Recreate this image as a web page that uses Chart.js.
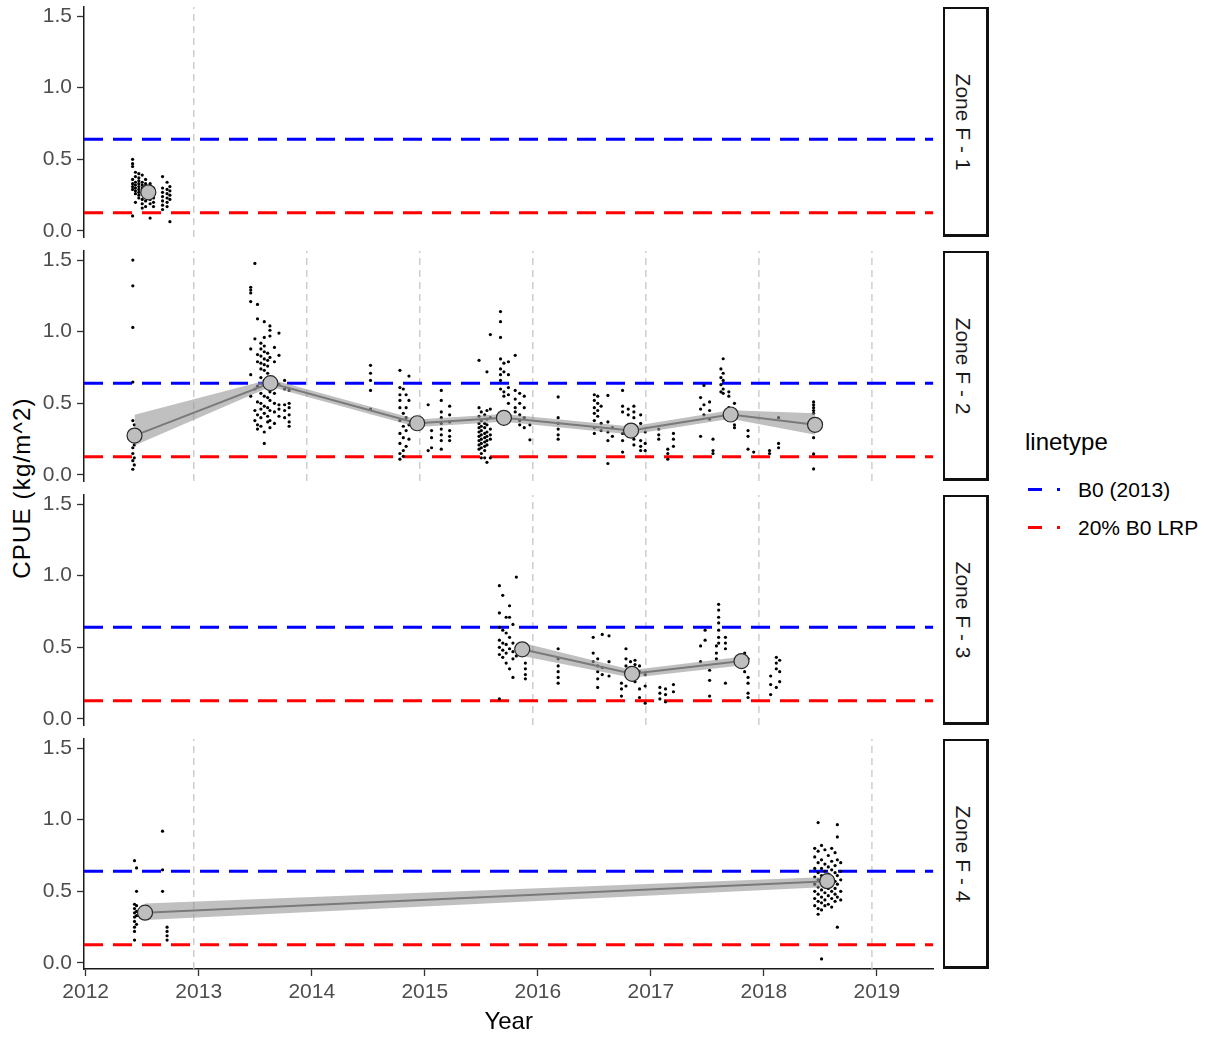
<!DOCTYPE html>
<html>
<head>
<meta charset="utf-8">
<title>CPUE by zone</title>
<script src="https://cdn.jsdelivr.net/npm/chart.js@4.4.1/dist/chart.umd.min.js"></script>
<style>
  html, body { margin: 0; padding: 0; background: #fff; }
  body { width: 1206px; height: 1038px; position: relative; overflow: hidden;
         font-family: "Liberation Sans", Arial, sans-serif; }
  canvas.panel { position: absolute; left: 0; }
  .strip { position: absolute; left: 943px; width: 46px; height: 230px; box-sizing: border-box;
           border: 2px solid #111; border-right-width: 3px; border-bottom-width: 3px; background: #fff; }
  .strip span { position: absolute; left: 50%; top: 50%; white-space: nowrap;
                transform: translate(-50%, -50%) rotate(90deg); margin-left: -3px;
                font-size: 21px; color: #1a1a1a; }
  #ytitle { position: absolute; left: 22px; top: 488px; white-space: nowrap;
            transform: translate(-50%, -50%) rotate(-90deg); font-size: 24px; letter-spacing: 1.2px; color: #000; }
  #legend { position: absolute; left: 1025px; top: 428px; color: #000; }
  #legend .ttl { position: absolute; left: 0; top: 0; font-size: 24px; white-space: nowrap; }
  #legend .item { position: absolute; left: 0; height: 24px; width: 180px; }
  #legend .dash { position: absolute; left: 3px; top: 10px; width: 14px; height: 3px; }
  #legend .dot { position: absolute; left: 32px; top: 10px; width: 3px; height: 3px; }
  #legend .lbl { position: absolute; left: 53px; top: 0; font-size: 21px; line-height: 24px; white-space: nowrap; }
</style>
</head>
<body>
<div id="ytitle">CPUE (kg/m^2)</div>
<div id="legend"></div>
<script>
// ---- data ---------------------------------------------------------------
const yearTicks = [2012, 2013, 2014, 2015, 2016, 2017, 2018, 2019];
const cpueTicks = [0, 0.5, 1.0, 1.5];
const zoneNames = ['Zone F - 1', 'Zone F - 2', 'Zone F - 3', 'Zone F - 4'];
const legendTitle = 'linetype';
const refNames = ['B0 (2013)', '20% B0 LRP'];
const refLevels = [0.64, 0.128];

// season boundaries drawn for each zone
const zone1Breaks = [2012.956];
const zone2Breaks = [2012.956, 2013.956, 2014.956, 2015.956, 2016.956, 2017.956, 2018.956];
const zone3Breaks = [2015.956, 2016.956, 2017.956];
const zone4Breaks = [2012.956, 2018.956];

// yearly mean CPUE and its confidence band
const zone1Time = [2012.554];
const zone1Mean = [0.27];
const zone1Lo = [0.27];
const zone1Hi = [0.27];

const zone2Time = [2012.432, 2013.634, 2014.933, 2015.70, 2016.825, 2017.706, 2018.453];
const zone2Mean = [0.275, 0.641, 0.361, 0.399, 0.310, 0.422, 0.350];
const zone2Lo = [0.205, 0.615, 0.335, 0.372, 0.282, 0.392, 0.280];
const zone2Hi = [0.420, 0.668, 0.388, 0.426, 0.338, 0.452, 0.430];

const zone3Time = [2015.862, 2016.834, 2017.802];
const zone3Mean = [0.486, 0.315, 0.404];
const zone3Lo = [0.440, 0.288, 0.374];
const zone3Hi = [0.532, 0.342, 0.434];

const zone4Time = [2012.525, 2018.561];
const zone4Mean = [0.351, 0.571];
const zone4Lo = [0.300, 0.530];
const zone4Hi = [0.415, 0.600];

// individual CPUE records: [date, [values at that date]]
const zone1Catch = [
  [2012.415, [0.50, 0.47, 0.45, 0.36, 0.33, 0.31, 0.29, 0.105]],
  [2012.44, [0.41, 0.38, 0.34, 0.32, 0.30, 0.28, 0.26, 0.20]],
  [2012.47, [0.40, 0.37, 0.35, 0.33, 0.31, 0.29, 0.27, 0.25, 0.23]],
  [2012.50, [0.39, 0.34, 0.32, 0.30, 0.28, 0.26, 0.22, 0.19, 0.16]],
  [2012.53, [0.36, 0.33, 0.31, 0.29, 0.24, 0.21, 0.17]],
  [2012.57, [0.33, 0.30, 0.26, 0.22, 0.19, 0.09]],
  [2012.60, [0.30, 0.27, 0.23, 0.20, 0.17]],
  [2012.68, [0.38, 0.30, 0.27, 0.24, 0.21, 0.18, 0.15]],
  [2012.72, [0.34, 0.29, 0.26, 0.23, 0.20, 0.17]],
  [2012.745, [0.31, 0.28, 0.25, 0.22, 0.065]]
];

const zone2Catch = [
  [2012.417, [1.50, 1.32, 1.03, 0.648, 0.38, 0.24, 0.19, 0.15, 0.10, 0.04]],
  [2012.43, [0.35, 0.29, 0.21, 0.12, 0.07]],
  [2013.46, [1.31, 1.29, 1.27, 1.21, 0.88, 0.70, 0.55]],
  [2013.497, [1.476, 0.95, 0.60, 0.45, 0.38]],
  [2013.52, [1.19, 1.09, 0.84, 0.79, 0.62, 0.51, 0.42, 0.35, 0.32]],
  [2013.55, [0.92, 0.88, 0.83, 0.78, 0.74, 0.68, 0.57, 0.50, 0.46, 0.40, 0.34]],
  [2013.58, [1.07, 0.96, 0.90, 0.86, 0.81, 0.77, 0.73, 0.66, 0.55, 0.48, 0.43, 0.30, 0.22]],
  [2013.61, [0.85, 0.80, 0.76, 0.71, 0.61, 0.54, 0.47, 0.41, 0.37]],
  [2013.63, [1.04, 1.01, 0.97, 0.82, 0.67, 0.58, 0.52, 0.45, 0.38, 0.33]],
  [2013.67, [0.89, 0.79, 0.64, 0.57, 0.50, 0.44, 0.36]],
  [2013.71, [0.99, 0.835, 0.63, 0.49, 0.46, 0.41]],
  [2013.76, [0.66, 0.60, 0.49, 0.45, 0.40]],
  [2013.80, [0.59, 0.50, 0.47, 0.42, 0.37, 0.34]],
  [2014.52, [0.765, 0.71, 0.66, 0.59, 0.46]],
  [2014.78, [0.73, 0.61, 0.56, 0.52, 0.47, 0.38, 0.29, 0.22, 0.15, 0.11]],
  [2014.81, [0.60, 0.43, 0.34, 0.26, 0.17, 0.13]],
  [2014.835, [0.56, 0.47, 0.40, 0.31, 0.20]],
  [2014.86, [0.69, 0.52, 0.35, 0.25]],
  [2015.03, [0.49, 0.17]],
  [2015.06, [0.31, 0.26, 0.19]],
  [2015.146, [0.59, 0.52, 0.44, 0.40, 0.36, 0.32, 0.28, 0.24, 0.18]],
  [2015.22, [0.48, 0.42, 0.37, 0.31, 0.27, 0.24]],
  [2015.48, [0.80, 0.47, 0.41, 0.36, 0.33, 0.30, 0.27, 0.24, 0.21, 0.18]],
  [2015.50, [0.44, 0.38, 0.34, 0.31, 0.28, 0.25, 0.22, 0.19, 0.15, 0.12]],
  [2015.53, [0.42, 0.36, 0.33, 0.29, 0.26, 0.23, 0.20, 0.17, 0.12]],
  [2015.55, [0.72, 0.45, 0.39, 0.35, 0.30, 0.27, 0.24, 0.21, 0.088]],
  [2015.58, [0.98, 0.46, 0.40, 0.32, 0.28, 0.25, 0.12]],
  [2015.67, [1.14, 1.07, 0.96, 0.81, 0.74, 0.70, 0.66, 0.60]],
  [2015.70, [0.78, 0.72, 0.58, 0.55]],
  [2015.74, [0.79, 0.70, 0.61, 0.56, 0.50]],
  [2015.80, [0.835, 0.59, 0.53, 0.47, 0.44]],
  [2015.84, [0.57, 0.50, 0.42, 0.38, 0.35]],
  [2015.88, [0.55, 0.47, 0.40, 0.33]],
  [2015.93, [0.35, 0.245]],
  [2016.18, [0.545, 0.40, 0.36, 0.32, 0.28, 0.25]],
  [2016.50, [0.56, 0.52, 0.47, 0.43, 0.38, 0.33, 0.29]],
  [2016.53, [0.55, 0.50, 0.45, 0.41]],
  [2016.56, [0.48, 0.36, 0.31]],
  [2016.62, [0.555, 0.37, 0.30, 0.24, 0.08]],
  [2016.66, [0.33, 0.27]],
  [2016.75, [0.59, 0.48, 0.44, 0.29, 0.24, 0.16]],
  [2016.80, [0.46, 0.42, 0.27]],
  [2016.85, [0.48, 0.44, 0.40, 0.29, 0.25, 0.21]],
  [2016.91, [0.42, 0.36, 0.24, 0.20, 0.17]],
  [2016.95, [0.30, 0.22, 0.17]],
  [2017.07, [0.32, 0.28, 0.25]],
  [2017.15, [0.18, 0.15, 0.11]],
  [2017.20, [0.29, 0.25, 0.20]],
  [2017.44, [0.54, 0.46, 0.27]],
  [2017.47, [0.625, 0.49, 0.42]],
  [2017.52, [0.51, 0.45, 0.39]],
  [2017.55, [0.25, 0.17, 0.15]],
  [2017.62, [0.74, 0.68, 0.63, 0.58]],
  [2017.64, [0.811, 0.71, 0.66, 0.60, 0.57]],
  [2017.69, [0.58, 0.55, 0.47]],
  [2017.74, [0.50, 0.44, 0.39, 0.35, 0.33]],
  [2017.86, [0.31, 0.27, 0.18]],
  [2017.91, [0.16]],
  [2018.05, [0.17, 0.15]],
  [2018.13, [0.40, 0.22, 0.19]],
  [2018.44, [0.51, 0.49, 0.47, 0.45, 0.43, 0.26, 0.147, 0.042]]
];

const zone3Catch = [
  [2015.66, [0.93, 0.74, 0.64, 0.55, 0.50, 0.45, 0.14]],
  [2015.69, [0.863, 0.62, 0.53, 0.48, 0.43]],
  [2015.72, [0.71, 0.60, 0.52, 0.46, 0.39]],
  [2015.75, [0.79, 0.71, 0.57, 0.49, 0.35]],
  [2015.78, [0.66, 0.53, 0.47, 0.42, 0.29]],
  [2015.81, [0.99, 0.50, 0.44]],
  [2015.89, [0.39, 0.35, 0.31, 0.28]],
  [2016.18, [0.49, 0.42, 0.37, 0.33, 0.29, 0.25]],
  [2016.49, [0.57, 0.46, 0.40]],
  [2016.53, [0.42, 0.37, 0.33, 0.28, 0.22]],
  [2016.57, [0.59, 0.36, 0.31]],
  [2016.63, [0.58, 0.40, 0.30]],
  [2016.74, [0.25, 0.21, 0.16]],
  [2016.78, [0.49, 0.42, 0.37, 0.33, 0.23]],
  [2016.82, [0.40, 0.36, 0.32, 0.28]],
  [2016.86, [0.41, 0.38, 0.34, 0.30, 0.26]],
  [2016.90, [0.37, 0.33, 0.21, 0.15]],
  [2016.95, [0.31, 0.23, 0.11]],
  [2017.08, [0.22, 0.18, 0.14]],
  [2017.13, [0.21, 0.17, 0.12]],
  [2017.20, [0.24, 0.19]],
  [2017.44, [0.51, 0.40]],
  [2017.48, [0.62, 0.55]],
  [2017.52, [0.34, 0.27, 0.16]],
  [2017.58, [0.51, 0.46, 0.42]],
  [2017.60, [0.80, 0.76, 0.71, 0.67, 0.62, 0.57, 0.53]],
  [2017.66, [0.57, 0.53, 0.49, 0.25]],
  [2017.83, [0.46, 0.39, 0.33]],
  [2017.86, [0.42, 0.29, 0.25, 0.18, 0.15]],
  [2018.06, [0.30, 0.24, 0.17]],
  [2018.11, [0.43, 0.39, 0.35, 0.22]],
  [2018.14, [0.41, 0.33, 0.26]]
];

const zone4Catch = [
  [2012.432, [0.714, 0.41, 0.38, 0.35, 0.32, 0.29, 0.25, 0.22, 0.16]],
  [2012.45, [0.663, 0.50, 0.40, 0.36, 0.33, 0.27]],
  [2012.68, [0.92, 0.65, 0.50]],
  [2012.72, [0.25, 0.22, 0.19, 0.16]],
  [2018.45, [0.80, 0.74, 0.66, 0.60, 0.55, 0.50, 0.45, 0.40]],
  [2018.48, [0.98, 0.78, 0.70, 0.63, 0.58, 0.53, 0.48, 0.43, 0.38, 0.34]],
  [2018.51, [0.82, 0.72, 0.66, 0.61, 0.56, 0.51, 0.46, 0.42, 0.37, 0.028]],
  [2018.54, [0.79, 0.69, 0.64, 0.59, 0.54, 0.49, 0.44, 0.40]],
  [2018.57, [0.75, 0.67, 0.62, 0.52, 0.47, 0.41]],
  [2018.60, [0.80, 0.71, 0.65, 0.60, 0.55, 0.50, 0.45, 0.39]],
  [2018.63, [0.77, 0.68, 0.63, 0.57, 0.52, 0.48, 0.43]],
  [2018.65, [0.965, 0.88, 0.72, 0.61, 0.55, 0.46, 0.25]],
  [2018.68, [0.70, 0.64, 0.58, 0.50, 0.44]]
];

// ---- layout and styling ------------------------------------------------
const X_MIN = 2011.985, X_MAX = 2019.499;
const Y_MIN = -0.042, Y_MAX = 1.563;
const PANEL_TOPS = [7, 251, 495, 739];
const PANEL_H = 230;
const PAD = 18;
const PLOT_RIGHT = 942;
const refColors = ['#0000ff', '#ff0000'];

Chart.defaults.font.family = '"Liberation Sans", Arial, sans-serif';

const zones = [
  { breaks: zone1Breaks, time: zone1Time, mean: zone1Mean, lo: zone1Lo, hi: zone1Hi, pts: zone1Catch },
  { breaks: zone2Breaks, time: zone2Time, mean: zone2Mean, lo: zone2Lo, hi: zone2Hi, pts: zone2Catch },
  { breaks: zone3Breaks, time: zone3Time, mean: zone3Mean, lo: zone3Lo, hi: zone3Hi, pts: zone3Catch },
  { breaks: zone4Breaks, time: zone4Time, mean: zone4Mean, lo: zone4Lo, hi: zone4Hi, pts: zone4Catch }
];

const xy = (xs, ys) => xs.map((x, i) => ({ x: x, y: ys[i] }));
const flatten = cols => cols.flatMap(([x, vals]) => vals.map(v => ({ x: x, y: v })));

function buildDatasets(z) {
  const ds = [];
  z.breaks.forEach(b => ds.push({
    data: [{ x: b, y: Y_MIN }, { x: b, y: Y_MAX }],
    borderColor: '#c6c6c6', borderWidth: 1.3, borderDash: [7, 5],
    pointRadius: 0, fill: false, order: 6
  }));
  refLevels.forEach((lvl, i) => ds.push({
    data: [{ x: X_MIN, y: lvl }, { x: X_MAX, y: lvl }],
    borderColor: refColors[i], borderWidth: 3, borderDash: [19, 10],
    pointRadius: 0, fill: false, order: 5
  }));
  ds.push({
    data: flatten(z.pts), showLine: false,
    pointRadius: 1.6, pointBackgroundColor: '#000', pointBorderWidth: 0, order: 4
  });
  ds.push({
    data: xy(z.time, z.lo), borderWidth: 0, pointRadius: 0, fill: false, order: 3
  });
  ds.push({
    data: xy(z.time, z.hi), borderWidth: 0, pointRadius: 0,
    fill: '-1', backgroundColor: 'rgba(150,150,150,0.6)', order: 2
  });
  ds.push({
    data: xy(z.time, z.mean), borderColor: '#7a7a7a', borderWidth: 2,
    pointRadius: 0, fill: false, order: 1
  });
  ds.push({
    data: xy(z.time, z.mean), showLine: false,
    pointRadius: 7.5, pointBackgroundColor: '#bebebe', pointBorderColor: '#2a2a2a',
    pointBorderWidth: 1.2, order: 0
  });
  return ds;
}

const axisGrid = { display: true, drawOnChartArea: false, drawTicks: true,
                   tickLength: 7, tickColor: '#333', tickWidth: 1.3 };
const axisBorder = { display: true, color: '#1a1a1a', width: 1.5 };

zones.forEach((z, i) => {
  const bottom = i === zones.length - 1;
  const top = PANEL_TOPS[i] - PAD;
  const canvas = document.createElement('canvas');
  canvas.className = 'panel';
  canvas.width = PLOT_RIGHT;
  canvas.height = bottom ? 1038 - top : PANEL_H + 2 * PAD;
  canvas.style.top = top + 'px';
  document.body.appendChild(canvas);
  const xAxisH = canvas.height - PAD - PANEL_H;

  new Chart(canvas, {
    type: 'line',
    data: { datasets: buildDatasets(z) },
    options: {
      responsive: false, animation: false, events: [],
      layout: { padding: { top: PAD, bottom: bottom ? 0 : PAD, left: 0, right: 0 } },
      plugins: { legend: { display: false }, tooltip: { enabled: false } },
      scales: {
        x: {
          type: 'linear', min: X_MIN, max: X_MAX, display: bottom,
          afterBuildTicks: s => { s.ticks = yearTicks.map(v => ({ value: v })); },
          afterFit: s => { s.height = bottom ? xAxisH : 0; },
          grid: axisGrid, border: axisBorder,
          ticks: { color: '#4d4d4d', font: { size: 21 }, padding: 4,
                   maxRotation: 0, autoSkip: false, callback: v => String(v) },
          title: { display: true, text: 'Year', color: '#000', font: { size: 24 },
                   padding: { top: 0, bottom: 1 } }
        },
        y: {
          type: 'linear', min: Y_MIN, max: Y_MAX,
          afterBuildTicks: s => { s.ticks = cpueTicks.map(v => ({ value: v })); },
          afterFit: s => { s.width = 84; },
          grid: axisGrid, border: axisBorder,
          ticks: { color: '#4d4d4d', font: { size: 21 }, padding: 5,
                   callback: v => Number(v).toFixed(1) }
        }
      }
    }
  });

  const strip = document.createElement('div');
  strip.className = 'strip';
  strip.style.top = PANEL_TOPS[i] + 'px';
  const label = document.createElement('span');
  label.textContent = zoneNames[i];
  strip.appendChild(label);
  document.body.appendChild(strip);
});

// legend for the reference levels
const legend = document.getElementById('legend');
const ttl = document.createElement('div');
ttl.className = 'ttl';
ttl.textContent = legendTitle;
legend.appendChild(ttl);
refNames.forEach((name, i) => {
  const item = document.createElement('div');
  item.className = 'item';
  item.style.top = (50 + i * 38) + 'px';
  const dash = document.createElement('div');
  dash.className = 'dash';
  dash.style.background = refColors[i];
  const dot = document.createElement('div');
  dot.className = 'dot';
  dot.style.background = refColors[i];
  const lbl = document.createElement('div');
  lbl.className = 'lbl';
  lbl.textContent = name;
  item.appendChild(dash);
  item.appendChild(dot);
  item.appendChild(lbl);
  legend.appendChild(item);
});
</script>
</body>
</html>
